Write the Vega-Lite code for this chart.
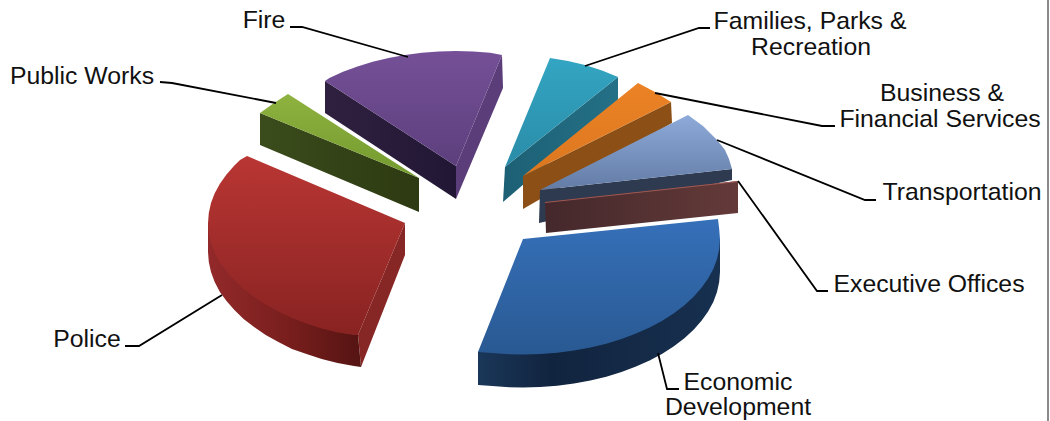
{
  "$schema": "https://vega.github.io/schema/vega-lite/v6.json",
  "width": 1050,
  "height": 421,
  "autosize": "none",
  "padding": 0,
  "background": "white",
  "view": {"stroke": null},
  "config": {"line": {"strokeWidth": 0}},
  "datasets": {
    "faces": [
      {"part":"fire_left","i":0,"x":325,"y":81},{"part":"fire_left","i":1,"x":456,"y":166},{"part":"fire_left","i":2,"x":456,"y":199},{"part":"fire_left","i":3,"x":325,"y":113},
      {"part":"fire_right","i":0,"x":502,"y":55},{"part":"fire_right","i":1,"x":503,"y":88},{"part":"fire_right","i":2,"x":456,"y":199},{"part":"fire_right","i":3,"x":456,"y":166},
      {"part":"fire_top","i":0,"x":325,"y":81},{"part":"fire_top","i":1,"x":329.4,"y":77.9},{"part":"fire_top","i":2,"x":343,"y":71.8},{"part":"fire_top","i":3,"x":357.5,"y":66.4},{"part":"fire_top","i":4,"x":372.7,"y":61.8},{"part":"fire_top","i":5,"x":388.6,"y":57.9},{"part":"fire_top","i":6,"x":405,"y":54.9},{"part":"fire_top","i":7,"x":421.8,"y":52.7},{"part":"fire_top","i":8,"x":438.8,"y":51.4},{"part":"fire_top","i":9,"x":456,"y":51},{"part":"fire_top","i":10,"x":473.2,"y":51.4},{"part":"fire_top","i":11,"x":490.2,"y":52.7},{"part":"fire_top","i":12,"x":502,"y":55},{"part":"fire_top","i":13,"x":456,"y":166},
      {"part":"works_side","i":0,"x":260,"y":113},{"part":"works_side","i":1,"x":419,"y":178},{"part":"works_side","i":2,"x":419,"y":212},{"part":"works_side","i":3,"x":260,"y":145},
      {"part":"works_top","i":0,"x":260,"y":113},{"part":"works_top","i":1,"x":274,"y":103},{"part":"works_top","i":2,"x":288,"y":94},{"part":"works_top","i":3,"x":419,"y":178},
      {"part":"police_end","i":0,"x":358,"y":335},{"part":"police_end","i":1,"x":361,"y":367},{"part":"police_end","i":2,"x":405,"y":255},{"part":"police_end","i":3,"x":405,"y":223},
      {"part":"police_rim","i":0,"x":208,"y":223},{"part":"police_rim","i":1,"x":354,"y":335},{"part":"police_rim","i":2,"x":358,"y":335},{"part":"police_rim","i":3,"x":361,"y":367},{"part":"police_rim","i":4,"x":354,"y":366},{"part":"police_rim","i":5,"x":337.6,"y":363},{"part":"police_rim","i":6,"x":321.7,"y":359},{"part":"police_rim","i":7,"x":306.5,"y":354},{"part":"police_rim","i":8,"x":292,"y":349},{"part":"police_rim","i":9,"x":278.4,"y":342},{"part":"police_rim","i":10,"x":265.7,"y":335},{"part":"police_rim","i":11,"x":254.1,"y":327},{"part":"police_rim","i":12,"x":243.6,"y":319},{"part":"police_rim","i":13,"x":234.4,"y":310},{"part":"police_rim","i":14,"x":226.5,"y":301},{"part":"police_rim","i":15,"x":219.9,"y":292},{"part":"police_rim","i":16,"x":214.7,"y":282},{"part":"police_rim","i":17,"x":211,"y":272},{"part":"police_rim","i":18,"x":208.8,"y":262},{"part":"police_rim","i":19,"x":208,"y":252},
      {"part":"police_top","i":0,"x":247,"y":156},{"part":"police_top","i":1,"x":405,"y":223},{"part":"police_top","i":2,"x":358,"y":335},{"part":"police_top","i":3,"x":354,"y":335},{"part":"police_top","i":4,"x":337.6,"y":332.5},{"part":"police_top","i":5,"x":321.7,"y":328.5},{"part":"police_top","i":6,"x":306.5,"y":323.5},{"part":"police_top","i":7,"x":292,"y":318},{"part":"police_top","i":8,"x":278.4,"y":311.5},{"part":"police_top","i":9,"x":265.7,"y":304.5},{"part":"police_top","i":10,"x":254.1,"y":297},{"part":"police_top","i":11,"x":243.6,"y":289},{"part":"police_top","i":12,"x":234.4,"y":280.5},{"part":"police_top","i":13,"x":226.5,"y":271.6},{"part":"police_top","i":14,"x":219.9,"y":262.3},{"part":"police_top","i":15,"x":214.7,"y":252.8},{"part":"police_top","i":16,"x":211,"y":243},{"part":"police_top","i":17,"x":208.8,"y":233},{"part":"police_top","i":18,"x":208,"y":223},{"part":"police_top","i":19,"x":208.8,"y":213},{"part":"police_top","i":20,"x":211,"y":203},{"part":"police_top","i":21,"x":214.7,"y":193.2},{"part":"police_top","i":22,"x":219.9,"y":183.7},{"part":"police_top","i":23,"x":226.5,"y":174.4},{"part":"police_top","i":24,"x":234.4,"y":165.5},{"part":"police_top","i":25,"x":240,"y":160},
      {"part":"econ_rim","i":0,"x":478,"y":352},{"part":"econ_rim","i":1,"x":720,"y":239},{"part":"econ_rim","i":2,"x":720,"y":272},{"part":"econ_rim","i":3,"x":719.2,"y":282},{"part":"econ_rim","i":4,"x":717,"y":292},{"part":"econ_rim","i":5,"x":713.3,"y":301.9},{"part":"econ_rim","i":6,"x":708.1,"y":311.5},{"part":"econ_rim","i":7,"x":701.5,"y":320.8},{"part":"econ_rim","i":8,"x":693.6,"y":329.8},{"part":"econ_rim","i":9,"x":684.4,"y":338.2},{"part":"econ_rim","i":10,"x":673.9,"y":346.2},{"part":"econ_rim","i":11,"x":662.3,"y":353.7},{"part":"econ_rim","i":12,"x":649.6,"y":360.5},{"part":"econ_rim","i":13,"x":636,"y":366.6},{"part":"econ_rim","i":14,"x":621.5,"y":372},{"part":"econ_rim","i":15,"x":606.3,"y":376.7},{"part":"econ_rim","i":16,"x":590.4,"y":380.5},{"part":"econ_rim","i":17,"x":574,"y":383.6},{"part":"econ_rim","i":18,"x":557.2,"y":385.7},{"part":"econ_rim","i":19,"x":540.2,"y":387.1},{"part":"econ_rim","i":20,"x":523,"y":387.5},{"part":"econ_rim","i":21,"x":505.8,"y":387.1},{"part":"econ_rim","i":22,"x":488.8,"y":385.7},{"part":"econ_rim","i":23,"x":478,"y":385},
      {"part":"econ_top","i":0,"x":523,"y":239},{"part":"econ_top","i":1,"x":718,"y":219},{"part":"econ_top","i":2,"x":719.2,"y":229},{"part":"econ_top","i":3,"x":720,"y":239},{"part":"econ_top","i":4,"x":719.2,"y":249},{"part":"econ_top","i":5,"x":717,"y":259},{"part":"econ_top","i":6,"x":713.3,"y":268.9},{"part":"econ_top","i":7,"x":708.1,"y":278.5},{"part":"econ_top","i":8,"x":701.5,"y":287.8},{"part":"econ_top","i":9,"x":693.6,"y":296.8},{"part":"econ_top","i":10,"x":684.4,"y":305.2},{"part":"econ_top","i":11,"x":673.9,"y":313.2},{"part":"econ_top","i":12,"x":662.3,"y":320.7},{"part":"econ_top","i":13,"x":649.6,"y":327.5},{"part":"econ_top","i":14,"x":636,"y":333.6},{"part":"econ_top","i":15,"x":621.5,"y":339},{"part":"econ_top","i":16,"x":606.3,"y":343.7},{"part":"econ_top","i":17,"x":590.4,"y":347.5},{"part":"econ_top","i":18,"x":574,"y":350.6},{"part":"econ_top","i":19,"x":557.2,"y":352.7},{"part":"econ_top","i":20,"x":540.2,"y":354.1},{"part":"econ_top","i":21,"x":523,"y":354.5},{"part":"econ_top","i":22,"x":505.8,"y":354.1},{"part":"econ_top","i":23,"x":488.8,"y":352.7},{"part":"econ_top","i":24,"x":478,"y":352},
      {"part":"parks_side","i":0,"x":505,"y":167},{"part":"parks_side","i":1,"x":618,"y":77},{"part":"parks_side","i":2,"x":618,"y":103},{"part":"parks_side","i":3,"x":503,"y":202},
      {"part":"parks_top","i":0,"x":550,"y":58},{"part":"parks_top","i":1,"x":568,"y":61},{"part":"parks_top","i":2,"x":585,"y":65},{"part":"parks_top","i":3,"x":602,"y":70.5},{"part":"parks_top","i":4,"x":618,"y":77},{"part":"parks_top","i":5,"x":505,"y":167},
      {"part":"business_side","i":0,"x":523,"y":176},{"part":"business_side","i":1,"x":671,"y":102},{"part":"business_side","i":2,"x":672,"y":123},{"part":"business_side","i":3,"x":523,"y":209},
      {"part":"business_top","i":0,"x":638,"y":83},{"part":"business_top","i":1,"x":655,"y":92},{"part":"business_top","i":2,"x":671,"y":102},{"part":"business_top","i":3,"x":523,"y":176},
      {"part":"transport_side","i":0,"x":540,"y":190},{"part":"transport_side","i":1,"x":732,"y":169},{"part":"transport_side","i":2,"x":732,"y":180},{"part":"transport_side","i":3,"x":539,"y":223},
      {"part":"transport_top","i":0,"x":688,"y":115},{"part":"transport_top","i":1,"x":703,"y":126},{"part":"transport_top","i":2,"x":717,"y":140},{"part":"transport_top","i":3,"x":725,"y":150},{"part":"transport_top","i":4,"x":729,"y":159},{"part":"transport_top","i":5,"x":732,"y":169},{"part":"transport_top","i":6,"x":540,"y":190},
      {"part":"executive_side","i":0,"x":545,"y":202},{"part":"executive_side","i":1,"x":738,"y":181},{"part":"executive_side","i":2,"x":738,"y":213},{"part":"executive_side","i":3,"x":546,"y":233},
      {"part":"executive_top","i":0,"x":545,"y":202},{"part":"executive_top","i":1,"x":738,"y":181},{"part":"executive_top","i":2,"x":738,"y":182},{"part":"executive_top","i":3,"x":545,"y":203}
    ],
    "leaders": [
      {"name":"Fire","i":0,"x":290,"y":27},{"name":"Fire","i":1,"x":302,"y":27},{"name":"Fire","i":2,"x":408,"y":57},
      {"name":"Public Works","i":0,"x":160,"y":82},{"name":"Public Works","i":1,"x":172,"y":83},{"name":"Public Works","i":2,"x":276,"y":103},
      {"name":"Police","i":0,"x":125,"y":346},{"name":"Police","i":1,"x":139,"y":346},{"name":"Police","i":2,"x":222,"y":295},
      {"name":"Economic Development","i":0,"x":658,"y":353},{"name":"Economic Development","i":1,"x":667,"y":389},{"name":"Economic Development","i":2,"x":679,"y":389},
      {"name":"Executive Offices","i":0,"x":738,"y":181},{"name":"Executive Offices","i":1,"x":817,"y":291},{"name":"Executive Offices","i":2,"x":828,"y":291},
      {"name":"Transportation","i":0,"x":717,"y":140},{"name":"Transportation","i":1,"x":865,"y":200},{"name":"Transportation","i":2,"x":876,"y":200},
      {"name":"Business & Financial Services","i":0,"x":655,"y":93},{"name":"Business & Financial Services","i":1,"x":822,"y":126},{"name":"Business & Financial Services","i":2,"x":835,"y":126},
      {"name":"Families, Parks & Recreation","i":0,"x":585,"y":66},{"name":"Families, Parks & Recreation","i":1,"x":699,"y":28},{"name":"Families, Parks & Recreation","i":2,"x":710,"y":28}
    ],
    "labels": [
      {"text":"Fire","x":264,"y":28},
      {"text":"Public Works","x":82,"y":84},
      {"text":"Police","x":87,"y":347},
      {"text":"Families, Parks &","x":810,"y":29},
      {"text":"Recreation","x":811,"y":55},
      {"text":"Business &","x":942,"y":101},
      {"text":"Financial Services","x":940,"y":127},
      {"text":"Transportation","x":962,"y":200},
      {"text":"Executive Offices","x":929,"y":292},
      {"text":"Economic","x":738,"y":390},
      {"text":"Development","x":738,"y":415}
    ],
    "frame": [{"x":1048}]
  },
  "data": {"name": "faces"},
  "encoding": {
    "x": {"field": "x", "type": "quantitative", "scale": {"domain": [0, 1050], "nice": false, "zero": false}, "axis": null},
    "y": {"field": "y", "type": "quantitative", "scale": {"domain": [421, 0], "nice": false, "zero": false}, "axis": null}
  },
  "layer": [
    {"transform":[{"filter":"datum.part==='fire_left'"}],"mark":{"type":"line","fill":{"gradient":"linear","x1":0,"y1":0,"x2":1,"y2":0,"stops":[{"offset":0,"color":"#30203f"},{"offset":1,"color":"#211735"}]}},"encoding":{"order":{"field":"i"}}},
    {"transform":[{"filter":"datum.part==='fire_right'"}],"mark":{"type":"line","fill":"#5b3e79"},"encoding":{"order":{"field":"i"}}},
    {"transform":[{"filter":"datum.part==='fire_top'"}],"mark":{"type":"line","fill":{"gradient":"linear","x1":0,"y1":0,"x2":0,"y2":1,"stops":[{"offset":0,"color":"#755097"},{"offset":1,"color":"#5d3f7d"}]}},"encoding":{"order":{"field":"i"}}},
    {"transform":[{"filter":"datum.part==='works_side'"}],"mark":{"type":"line","fill":{"gradient":"linear","x1":0,"y1":0,"x2":1,"y2":0,"stops":[{"offset":0,"color":"#3a4c1c"},{"offset":1,"color":"#2e3a12"}]}},"encoding":{"order":{"field":"i"}}},
    {"transform":[{"filter":"datum.part==='works_top'"}],"mark":{"type":"line","fill":{"gradient":"linear","x1":0,"y1":0,"x2":0,"y2":1,"stops":[{"offset":0,"color":"#8fb240"},{"offset":1,"color":"#739a2e"}]}},"encoding":{"order":{"field":"i"}}},
    {"transform":[{"filter":"datum.part==='police_end'"}],"mark":{"type":"line","fill":"#872725"},"encoding":{"order":{"field":"i"}}},
    {"transform":[{"filter":"datum.part==='police_rim'"}],"mark":{"type":"line","fill":{"gradient":"linear","x1":0,"y1":0,"x2":1,"y2":0,"stops":[{"offset":0,"color":"#93292a"},{"offset":0.5,"color":"#7a1f1e"},{"offset":1,"color":"#551412"}]}},"encoding":{"order":{"field":"i"}}},
    {"transform":[{"filter":"datum.part==='police_top'"}],"mark":{"type":"line","fill":{"gradient":"linear","x1":0,"y1":0,"x2":0,"y2":1,"stops":[{"offset":0,"color":"#b93633"},{"offset":1,"color":"#882322"}]}},"encoding":{"order":{"field":"i"}}},
    {"transform":[{"filter":"datum.part==='parks_side'"}],"mark":{"type":"line","fill":{"gradient":"linear","x1":0,"y1":0,"x2":1,"y2":0,"stops":[{"offset":0,"color":"#1d6075"},{"offset":1,"color":"#247086"}]}},"encoding":{"order":{"field":"i"}}},
    {"transform":[{"filter":"datum.part==='parks_top'"}],"mark":{"type":"line","fill":{"gradient":"linear","x1":0,"y1":0,"x2":0,"y2":1,"stops":[{"offset":0,"color":"#33a5c2"},{"offset":1,"color":"#2a8ca8"}]}},"encoding":{"order":{"field":"i"}}},
    {"transform":[{"filter":"datum.part==='business_side'"}],"mark":{"type":"line","fill":"#8c4f16"},"encoding":{"order":{"field":"i"}}},
    {"transform":[{"filter":"datum.part==='business_top'"}],"mark":{"type":"line","fill":{"gradient":"linear","x1":0,"y1":0,"x2":0,"y2":1,"stops":[{"offset":0,"color":"#ec8225"},{"offset":1,"color":"#dc771f"}]}},"encoding":{"order":{"field":"i"}}},
    {"transform":[{"filter":"datum.part==='transport_side'"}],"mark":{"type":"line","fill":"#2d3a50"},"encoding":{"order":{"field":"i"}}},
    {"transform":[{"filter":"datum.part==='transport_top'"}],"mark":{"type":"line","fill":{"gradient":"linear","x1":0,"y1":0,"x2":0,"y2":1,"stops":[{"offset":0,"color":"#8eaad9"},{"offset":1,"color":"#637ca6"}]}},"encoding":{"order":{"field":"i"}}},
    {"transform":[{"filter":"datum.part==='executive_side'"}],"mark":{"type":"line","fill":{"gradient":"linear","x1":0,"y1":0,"x2":1,"y2":0,"stops":[{"offset":0,"color":"#44282b"},{"offset":1,"color":"#643a39"}]}},"encoding":{"order":{"field":"i"}}},
    {"transform":[{"filter":"datum.part==='executive_top'"}],"mark":{"type":"line","fill":"#a05a55"},"encoding":{"order":{"field":"i"}}},
    {"transform":[{"filter":"datum.part==='econ_rim'"}],"mark":{"type":"line","fill":{"gradient":"linear","x1":0,"y1":0,"x2":1,"y2":0,"stops":[{"offset":0,"color":"#1a3759"},{"offset":0.3,"color":"#11243f"},{"offset":1,"color":"#17304f"}]}},"encoding":{"order":{"field":"i"}}},
    {"transform":[{"filter":"datum.part==='econ_top'"}],"mark":{"type":"line","fill":{"gradient":"linear","x1":0,"y1":0,"x2":0,"y2":1,"stops":[{"offset":0,"color":"#3670b9"},{"offset":1,"color":"#295992"}]}},"encoding":{"order":{"field":"i"}}},
    {"data":{"name":"leaders"},"mark":{"type":"line","color":"#000000","strokeWidth":1.8},"encoding":{"detail":{"field":"name"},"order":{"field":"i"}}},
    {"data":{"name":"labels"},"mark":{"type":"text","font":"Liberation Sans","fontSize":24.8,"align":"center","baseline":"alphabetic","color":"#111111"},"encoding":{"text":{"field":"text"}}},
    {"data":{"name":"frame"},"mark":{"type":"rule","color":"#8a8a8a","strokeWidth":2},"encoding":{"x":{"field":"x","type":"quantitative"},"y":null}}
  ]
}
